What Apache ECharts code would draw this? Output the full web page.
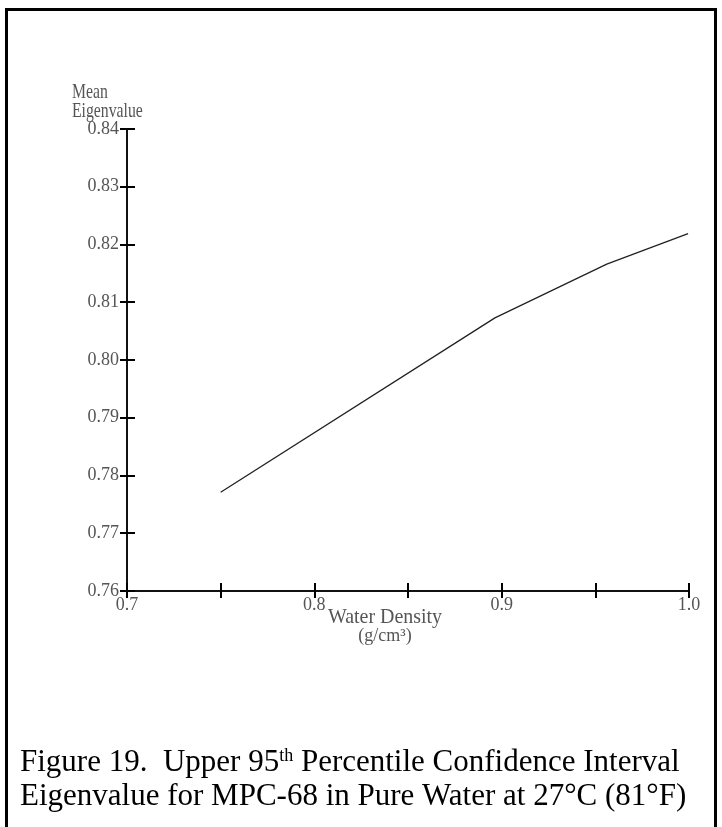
<!DOCTYPE html>
<html><head><meta charset="utf-8">
<script src="https://cdn.jsdelivr.net/npm/echarts@6/dist/echarts.min.js"></script>
<style>html,body{margin:0;padding:0;background:#fff}#c{width:722px;height:827px}</style>
</head><body><div id="c"></div>
<script>
const densities = [0.75, 0.8964, 0.9561, 0.9995];
const eigenvalues = [0.7771, 0.8073, 0.8166, 0.8219];
const xTicks = [0.7, 0.8, 0.9, 1.0];
const yTicks = [0.76, 0.77, 0.78, 0.79, 0.80, 0.81, 0.82, 0.83, 0.84];
const yAxisTitle = ['Mean', 'Eigenvalue'];
const xAxisTitle = ['Water Density', '(g/cm\u00b3)'];

const chart = echarts.init(document.getElementById('c'), null, {renderer: 'canvas'});
const labelFont = {fontFamily: 'Liberation Serif', fontSize: 18, color: '#555'};
const grid = {left: 127, right: 33, top: 129, bottom: 236};
const xBase = {
  type: 'value', min: 0.7, max: 1.0, interval: 0.05,
  axisLine: {show: true, lineStyle: {color: '#111', width: 2}},
  splitLine: {show: false}
};
const yBase = {
  type: 'value', min: 0.76, max: 0.84, interval: 0.01,
  axisLine: {show: true, lineStyle: {color: '#111', width: 2}},
  splitLine: {show: false}
};
chart.setOption({
  animation: false,
  backgroundColor: '#fff',
  grid: grid,
  xAxis: [
    Object.assign({}, xBase, {
      axisTick: {show: true, inside: false, length: 7, lineStyle: {color: '#000', width: 2}},
      axisLabel: Object.assign({}, labelFont, {
        margin: 5,
        formatter: v => {
          const r = Math.round(v * 100);
          return xTicks.some(t => Math.round(t * 100) === r) ? v.toFixed(1) : '';
        }
      })
    }),
    Object.assign({}, xBase, {
      axisTick: {show: true, inside: true, length: 8, lineStyle: {color: '#000', width: 2}},
      axisLabel: {show: false}, position: 'bottom'
    })
  ],
  yAxis: [
    Object.assign({}, yBase, {
      axisTick: {show: true, inside: false, length: 7, lineStyle: {color: '#000', width: 2}},
      axisLabel: Object.assign({}, labelFont, {
        margin: 8,
        formatter: v => {
          const r = Math.round(v * 100);
          return yTicks.some(t => Math.round(t * 100) === r) ? v.toFixed(2) : '';
        }
      })
    }),
    Object.assign({}, yBase, {
      axisTick: {show: true, inside: true, length: 8, lineStyle: {color: '#000', width: 2}},
      axisLabel: {show: false}, position: 'left'
    })
  ],
  series: [{
    type: 'line',
    data: densities.map((d, i) => [d, eigenvalues[i]]),
    showSymbol: false,
    lineStyle: {color: '#222', width: 1.3},
    xAxisIndex: 0, yAxisIndex: 0
  }],
  graphic: [
    {type: 'line', shape: {x1: 6.5, y1: 9.5, x2: 6.5, y2: 830}, style: {stroke: '#000', lineWidth: 3}},
    {type: 'line', shape: {x1: 5, y1: 9.5, x2: 717, y2: 9.5}, style: {stroke: '#000', lineWidth: 3}},
    {type: 'line', shape: {x1: 715.5, y1: 8, x2: 715.5, y2: 830}, style: {stroke: '#000', lineWidth: 3}},
    {type: 'text', x: 72, y: 83, scaleX: 0.75, style: {text: yAxisTitle.join('\n'), font: '21px "Liberation Serif"', fill: '#555', lineHeight: 19}},
    {type: 'text', x: 385, y: 607, scaleX: 0.95, style: {text: xAxisTitle[0], font: '21px "Liberation Serif"', fill: '#555', textAlign: 'center'}},
    {type: 'text', x: 385, y: 627, style: {text: xAxisTitle[1], font: '18px "Liberation Serif"', fill: '#555', textAlign: 'center'}},
    {type: 'text', x: 20, y: 747, style: {
      rich: {n: {fontFamily: 'Liberation Serif', fontSize: 31, fill: '#000'}, s: {fontFamily: 'Liberation Serif', fontSize: 18, fill: '#000', verticalAlign: 'top', padding: [0,0,12,0]}},
      text: '{n|Figure 19.  Upper 95}{s|th}{n| Percentile Confidence Interval}', fill: '#000'
    }},
    {type: 'text', x: 20, y: 781, style: {text: 'Eigenvalue for MPC-68 in Pure Water at 27\u00b0C (81\u00b0F)', font: '31px "Liberation Serif"', fill: '#000'}}
  ]
});
</script></body></html>
